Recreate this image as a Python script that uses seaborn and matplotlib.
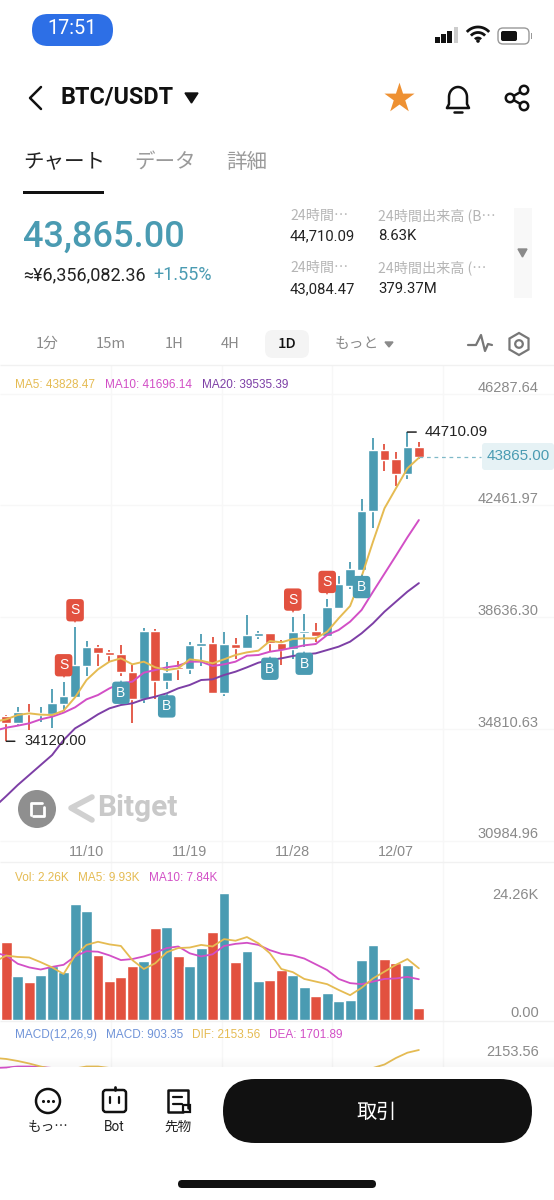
# -----------------------------
# 1. Import required libraries
# -----------------------------
import numpy as np
import pandas as pd
import matplotlib
matplotlib.use("Agg")
import matplotlib.pyplot as plt
import seaborn as sns
from matplotlib.patches import FancyBboxPatch, Circle, Rectangle, RegularPolygon
from matplotlib.transforms import offset_copy

# -----------------------------
# 2. Data
# -----------------------------
day_index = list(range(-1, 37))

opens = [35476, 34996, 34734, 35110, 35031, 35053, 35407, 35647, 36709, 37348, 37188, 37108, 36503,
         35567, 37908, 36184, 36652, 36595, 37371, 37497, 35761, 37451, 37303, 37736, 37816, 37497,
         37268, 37839, 37896, 37725, 38673, 39449, 39986, 42006, 44096, 43787, 43274, 44198]
closes = [35076, 34734, 35110, 35042, 35088, 35442, 35670, 36743, 37337, 37143, 37074, 36481, 35567,
          37908, 36184, 36503, 36583, 37405, 37497, 35761, 37451, 37303, 37759, 37839, 37497, 37245,
          37862, 37896, 37725, 38730, 39495, 40008, 42018, 44096, 43753, 43274, 44198, 43865]
highs = [35600, 35019, 35282, 35396, 35305, 35910, 36138, 38022, 37554, 37417, 37245, 37428, 36732,
         37988, 37953, 36823, 36869, 37531, 37782, 37679, 37873, 37668, 38433, 37908, 37839, 37588,
         38387, 38467, 38159, 38992, 39780, 40260, 42417, 44495, 44301, 44039, 44710.09, 44358]
lows = [34900, 34120, 34642, 34505, 34791, 34563, 35168, 35624, 36366, 36697, 36823, 36366, 34734,
        35419, 35556, 35898, 36218, 36423, 36697, 35761, 35681, 36926, 37303, 37622, 37188, 36732,
        36926, 37360, 37531, 37702, 38650, 39335, 39986, 41435, 43388, 42874, 43102, 43776]

ma5 = [34791, 34871, 35019, 35076, 35031, 35019, 35168, 35624, 36218, 36583, 36846, 36960, 36755,
       36846, 36652, 36560, 36617, 36926, 36880, 36789, 36926, 37074, 37165, 37223, 37554, 37508,
       37622, 37645, 37645, 37873, 38330, 38752, 39757, 40956, 42098, 42783, 43468, 43828.47]
ma10 = [34483, 34585, 34654, 34734, 34871, 34962, 35099, 35282, 35556, 35704, 35932, 36104, 36161,
        36469, 36560, 36652, 36709, 36846, 36846, 36697, 36755, 36846, 37051, 37074, 37188, 37245,
        37325, 37405, 37451, 37759, 37930, 38216, 38615, 39243, 39860, 40476, 41104, 41696.14]
ma20 = [31880, 32245, 32622, 32964, 33307, 33649, 34163, 34562, 34791, 35042, 35247, 35362, 35419,
        35556, 35647, 35761, 35932, 36047, 36218, 36241, 36389, 36503, 36652, 36812, 36903, 36960,
        37040, 37097, 37131, 37245, 37360, 37531, 37816, 38159, 38558, 38901, 39243, 39535.39]

volumes = [16.9, 14.9, 8.5, 7.4, 8.7, 10.4, 9.3, 22.2, 20.8, 12.4, 7.6, 8.2, 10.4, 11.4, 17.6, 17.8,
           12.2, 10.3, 13.9, 16.8, 24.26, 11.1, 13.3, 7.5, 7.7, 9.7, 8.7, 6.4, 4.6, 5.3, 3.7, 3.9,
           11.5, 14.3, 11.8, 10.9, 10.6, 2.26]
vol_ma5 = [11.2, 12.36, 12.1, 12.0, 11.1, 10.1, 8.85, 12.36, 14.4, 15.0, 14.5, 14.2, 11.5, 9.8, 10.9,
           13.0, 13.8, 13.9, 14.4, 14.1, 15.5, 15.2, 15.9, 14.7, 12.8, 9.8, 9.2, 7.9, 7.4, 6.9, 5.8,
           4.8, 6.2, 8.0, 9.3, 10.6, 11.7, 9.93]
vol_ma10 = [12.9, 12.36, 10.8, 10.1, 9.7, 10.2, 10.6, 12.2, 13.2, 13.1, 12.4, 11.5, 11.7, 12.2, 12.9,
            13.8, 14.1, 12.8, 12.2, 12.6, 14.2, 14.6, 14.8, 14.4, 13.4, 12.7, 12.4, 11.8, 10.7, 9.6,
            7.9, 7.1, 6.9, 7.4, 7.9, 8.0, 8.3, 7.84]

# most of these two run under the bottom sheet, so the hidden part is a guess
dif = [1954, 1929, 1879, 1816, 1741, 1679, 1654, 1691, 1741, 1741, 1704, 1604, 1604, 1604, 1604, 1604,
       1604, 1604, 1604, 1604, 1604, 1604, 1604, 1604, 1604, 1604, 1604, 1604, 1604, 1604, 1604, 1604,
       1604, 1704, 1791, 1954, 2086, 2153.56]
dea = [1704, 1716, 1741, 1741, 1729, 1704, 1680, 1650, 1640, 1640, 1640, 1640, 1640, 1640, 1640, 1640,
       1640, 1640, 1640, 1640, 1640, 1640, 1640, 1640, 1640, 1640, 1640, 1640, 1640, 1640, 1640, 1640,
       1640, 1650, 1660, 1670, 1685, 1701.89]

sell_days = [5, 6, 25, 28]
buy_days = [10, 14, 23, 26, 31]

price_ticks = [46287.64, 42461.97, 38636.30, 34810.63, 30984.96]
date_days = [7, 16, 25, 34]
date_labels = ["11/10", "11/19", "11/28", "12/07"]
timeframes = ["1分", "15m", "1H", "4H", "1D", "もっと"]

# -----------------------------
# 3. Figure and colours
# -----------------------------
sns.set_theme(style="white")
JP = ["Noto Sans CJK JP", "DejaVu Sans"]
LAT = ["Liberation Sans", "DejaVu Sans"]
ROB = ["Roboto", "DejaVu Sans"]
plt.rcParams["font.family"] = JP

TEAL = "#4a9bb2"
RED = "#e2513f"
YELLOW = "#e5bb52"
PINK = "#d24fc6"
PURPLE = "#7d3fa6"
BLUE = "#6f93d8"
GRID = "#f7f7f7"
GRAY = "#8a8a8a"

W, H = 554, 1200
fig = plt.figure(figsize=(W / 100, H / 100), dpi=100, facecolor="white")


def px_axes(x0, y0, x1, y1, zorder):
    ax = fig.add_axes([x0 / W, 1 - y1 / H, (x1 - x0) / W, (y1 - y0) / H], zorder=zorder)
    ax.patch.set_alpha(0)
    for s in ax.spines.values():
        s.set_visible(False)
    return ax


def overlay_axes(zorder):
    ax = px_axes(0, 0, W, H, zorder)
    ax.set_xlim(0, W)
    ax.set_ylim(H, 0)
    ax.axis("off")
    return ax


def label(ax, x, y, s, size, color="#111111", ha="left", family=JP, weight="normal"):
    ax.text(x, y, s, fontsize=size, color=color, ha=ha, va="center", family=family, weight=weight)


def rrect(ax, x, y, w, h, r, **kw):
    ax.add_patch(FancyBboxPatch((x + r, y + r), w - 2 * r, h - 2 * r,
                                boxstyle=f"round,pad={r},rounding_size={r}", **kw))


ui = overlay_axes(0)
top = overlay_axes(5)

# -----------------------------
# 4. Price panel
# -----------------------------
X_START, X_STEP = 6.3, 11.46
PRICE_PER_PX = 34.25
xlim = ((0 - X_START) / X_STEP, (W - X_START) / X_STEP)


def price_at(py):
    return price_ticks[0] - (py - 386) * PRICE_PER_PX


price_ax = px_axes(0, 365, W, 862, 1)
price_ax.set_xlim(xlim)
price_ax.set_ylim(price_at(862), price_at(365))

# gridlines sit about 8 px under their labels in the app
price_ax.hlines([p - 7.8 * PRICE_PER_PX for p in price_ticks], *xlim, color=GRID, lw=1, zorder=0)

candle_colors = [TEAL if c >= o else RED for o, c in zip(opens, closes)]
price_ax.vlines(day_index, lows, highs, colors=candle_colors, lw=1.3, zorder=2)
price_ax.bar(day_index, np.abs(np.array(closes) - np.array(opens)),
             bottom=np.minimum(opens, closes), width=0.84, color=candle_colors, zorder=3)

for values, color in [(ma20, PURPLE), (ma10, PINK), (ma5, YELLOW)]:
    line_df = pd.DataFrame({"day": day_index, "ma": values})
    sns.lineplot(data=line_df, x="day", y="ma", color=color, lw=1.4, errorbar=None, ax=price_ax, zorder=4)

price_ax.set_xlabel("")
price_ax.set_ylabel("")
price_ax.set_xlim(xlim)
price_ax.set_ylim(price_at(862), price_at(365))
price_ax.yaxis.tick_right()
price_ax.set_yticks(price_ticks, [f"{p:.2f}" for p in price_ticks])
price_ax.tick_params(axis="y", length=0, pad=-11, labelsize=10.5, labelcolor=GRAY)
for t in price_ax.get_yticklabels():
    t.set_ha("right")
    t.set_family(LAT)
price_ax.set_xticks(date_days, date_labels)
price_ax.tick_params(axis="x", length=0, pad=-12, labelsize=10.4, labelcolor=GRAY)
for t in price_ax.get_xticklabels():
    t.set_family(LAT)

# S / B badges hang off the candle highs and lows
badge = dict(boxstyle="round,pad=0.3,rounding_size=0.25", ec="none")
for day in sell_days:
    high = highs[day_index.index(day)]
    tip = offset_copy(price_ax.transData, fig=fig, y=5, units="points")
    price_ax.plot(day, high, marker="v", ms=5, color=RED, mew=0, transform=tip, zorder=6)
    price_ax.annotate("S", (day, high), xytext=(0, 12.3), textcoords="offset points", ha="center", va="center",
                      fontsize=10, color="white", family=LAT, zorder=7, bbox=dict(fc=RED, **badge))
for day in buy_days:
    low = lows[day_index.index(day)]
    tip = offset_copy(price_ax.transData, fig=fig, y=-5, units="points")
    price_ax.plot(day, low, marker="^", ms=5, color=TEAL, mew=0, transform=tip, zorder=6)
    price_ax.annotate("B", (day, low), xytext=(0, -12.3), textcoords="offset points", ha="center", va="center",
                      fontsize=10, color="white", family=LAT, zorder=7, bbox=dict(fc=TEAL, **badge))

# high / low callouts and last price tag
price_ax.annotate("44710.09", (35, highs[-2]), xytext=(12.2, 0), textcoords="offset points", va="center",
                  fontsize=10.8, color="#222222", family=LAT, zorder=7,
                  arrowprops=dict(arrowstyle="-", color="#222222", lw=1.1, shrinkA=3.5, shrinkB=0))
price_ax.annotate("34120.00", (0, lows[1]), xytext=(13, 0), textcoords="offset points", va="center",
                  fontsize=10.6, color="#222222", family=LAT, zorder=7,
                  arrowprops=dict(arrowstyle="-", color="#222222", lw=1.1, shrinkA=4.5, shrinkB=0))
price_ax.plot([36, 41.4], [closes[-1], closes[-1]], color="#7fb9c8", lw=0.9, ls=(0, (3, 3)), zorder=4)
rrect(top, 482, 443, 72, 27, 3, fc="#e6f2f5", ec="none")
label(top, 518.5, 456.5, "43865.00", 10.9, TEAL, ha="center", family=LAT)

label(ui, 15, 385, "MA5: 43828.47", 8.5, YELLOW, family=LAT)
label(ui, 105, 385, "MA10: 41696.14", 8.5, PINK, family=LAT)
label(ui, 202, 385, "MA20: 39535.39", 8.5, PURPLE, family=LAT)

# -----------------------------
# 5. Volume panel
# -----------------------------
VOL_PER_PX = 0.191
vol_ax = px_axes(0, 865, W, 1020.3, 1)
vol_df = pd.DataFrame({"day": day_index, "vol": volumes,
                       "side": ["up" if c == TEAL else "down" for c in candle_colors]})
sns.barplot(data=vol_df, x="day", y="vol", hue="side", palette={"up": TEAL, "down": RED}, dodge=False,
            native_scale=True, saturation=1, width=0.95, legend=False, errorbar=None, ax=vol_ax)
for values, color in [(vol_ma10, PINK), (vol_ma5, YELLOW)]:
    line_df = pd.DataFrame({"day": day_index, "ma": values})
    sns.lineplot(data=line_df, x="day", y="ma", color=color, lw=1.3, errorbar=None, ax=vol_ax)
vol_ax.set_xlabel("")
vol_ax.set_ylabel("")
vol_ax.set_xlim(xlim)
vol_ax.set_ylim(0, 155.3 * VOL_PER_PX)
vol_ax.set_xticks([])
vol_ax.yaxis.tick_right()
vol_ax.set_yticks([0, 24.26], ["0.00", "24.26K"])
vol_ax.tick_params(axis="y", length=0, pad=-11, labelsize=10.5, labelcolor=GRAY)
for t in vol_ax.get_yticklabels():
    t.set_ha("right")
    t.set_family(LAT)
vol_ax.get_yticklabels()[0].set_va("bottom")

label(ui, 15, 878, "Vol: 2.26K", 8.5, YELLOW, family=LAT)
label(ui, 78, 878, "MA5: 9.93K", 8.5, YELLOW, family=LAT)
label(ui, 149, 878, "MA10: 7.84K", 8.5, PINK, family=LAT)

# -----------------------------
# 6. MACD panel (mostly hidden)
# -----------------------------
MACD_PER_PX = 25
macd_ax = px_axes(0, 1021, W, 1075, 1)
for values, color in [(dea, PINK), (dif, YELLOW)]:
    line_df = pd.DataFrame({"day": day_index, "val": values})
    sns.lineplot(data=line_df, x="day", y="val", color=color, lw=1.3, errorbar=None, ax=macd_ax)
macd_ax.set_xlabel("")
macd_ax.set_ylabel("")
macd_ax.set_xlim(xlim)
macd_ax.set_ylim(2153.56 - (1075 - 1050) * MACD_PER_PX, 2153.56 + (1050 - 1021) * MACD_PER_PX)
macd_ax.set_xticks([])
macd_ax.yaxis.tick_right()
macd_ax.set_yticks([2153.56], ["2153.56"])
macd_ax.tick_params(axis="y", length=0, pad=-11, labelsize=10.5, labelcolor=GRAY)
for t in macd_ax.get_yticklabels():
    t.set_ha("right")
    t.set_family(LAT)

label(ui, 15, 1035, "MACD(12,26,9)", 8.5, BLUE, family=LAT)
label(ui, 106, 1035, "MACD: 903.35", 8.5, BLUE, family=LAT)
label(ui, 192, 1035, "DIF: 2153.56", 8.5, YELLOW, family=LAT)
label(ui, 269, 1035, "DEA: 1701.89", 8.5, PINK, family=LAT)

# panel rules and the vertical grid behind everything
ui.vlines([110.8, 221.6, 332.4, 443.2], 365, 1067, color=GRID, lw=1)
ui.hlines([365, 862, 1020.5], 0, W, color="#f1f1f1", lw=1)

# -----------------------------
# 7. App header
# -----------------------------
rrect(ui, 32, 14, 81, 32, 16, fc="#2d6fe6", ec="none")
label(ui, 72.5, 29, "17:51", 14.3, "white", ha="center", family=ROB)

# status icons
for i, h_bar in enumerate([6, 9, 12, 16]):
    ui.add_patch(Rectangle((435 + i * 6.2, 43 - h_bar), 4.6, h_bar,
                           fc="#111111" if i < 3 else "#cccccc", ec="none"))
for r in [4, 9.5, 15]:
    a = np.radians(np.linspace(222, 318, 30))
    ui.plot(478 + r * np.cos(a), 42 + r * np.sin(a), color="#111111", lw=2, solid_capstyle="butt")
ui.add_patch(Circle((478, 41), 1.8, fc="#111111", ec="none"))
rrect(ui, 498, 28, 31, 16, 5, fc="white", ec="#999999", lw=1)
rrect(ui, 501, 31, 16, 10, 2, fc="#111111", ec="none")
ui.add_patch(Rectangle((530.5, 33), 1.5, 6, fc="#999999", ec="none"))

# title row
ui.plot([41, 30, 41], [87, 98, 109], color="#111111", lw=1.8)
label(ui, 61, 97, "BTC/USDT", 16.8, "#111111", family=ROB, weight="bold")
ui.fill([185, 198, 191.5], [93, 93, 103], color="#111111")
ui.scatter([399], [98], marker="*", s=520, color="#ee9133", linewidths=0)

# bell
a = np.radians(np.linspace(180, 360, 30))
dome_x = 458 + 9 * np.cos(a)
dome_y = 97 + 10 * np.sin(a)
ui.plot(np.r_[447, 449, dome_x, 467, 469, 447], np.r_[108, 104, dome_y, 104, 108, 108], color="#111111", lw=1.8)
ui.plot([454, 462], [112, 112], color="#111111", lw=1.8)

# share
for cx, cy in [(510, 98), (524, 90), (524, 106)]:
    ui.add_patch(Circle((cx, cy), 4.2, fc="white", ec="#111111", lw=1.8, zorder=3))
ui.plot([524, 510, 524], [90, 98, 106], color="#111111", lw=1.8)

# tabs
label(ui, 23, 161.5, "チャート", 14.8, "#222222")
label(ui, 134, 161.5, "データ", 14.8, "#9a9a9a")
label(ui, 226, 161.5, "詳細", 14.8, "#9a9a9a")
ui.add_patch(Rectangle((23, 191), 81, 3, fc="#111111", ec="none"))

# price block
label(ui, 23, 237, "43,865.00", 26, TEAL, family=ROB, weight="medium")
label(ui, 23, 275, "≈¥6,356,082.36", 13, "#222222", family=ROB)
label(ui, 153, 275, "+1.55%", 13, TEAL, family=ROB)

label(ui, 290, 216, "24時間…", 10.2, "#b5b5b5")
label(ui, 378, 216, "24時間出来高 (B…", 10.2, "#b5b5b5")
label(ui, 290, 236, "44,710.09", 10.7, "#222222", family=ROB)
label(ui, 378, 236, "8.63K", 10.7, "#222222", family=ROB)
label(ui, 290, 268, "24時間…", 10.2, "#b5b5b5")
label(ui, 378, 268, "24時間出来高 (…", 10.2, "#b5b5b5")
label(ui, 290, 289, "43,084.47", 10.7, "#222222", family=ROB)
label(ui, 378, 289, "379.37M", 10.7, "#222222", family=ROB)
ui.add_patch(Rectangle((514, 208), 18, 90, fc="#f8f8f8", ec="none"))
ui.fill([518, 527, 522.5], [249, 249, 257], color="#8a8a8a")

# timeframe row
tf_x = [47, 111, 174, 230, 287, 357]
rrect(ui, 265, 330, 44, 28, 8, fc="#f4f4f4", ec="none")
for tf, tx in zip(timeframes, tf_x):
    label(ui, tx, 344, tf, 10.6, "#111111" if tf == "1D" else "#8a8a8a", ha="center",
          family=JP, weight="medium" if tf == "1D" else "normal")
ui.fill([385, 393, 389], [342, 342, 347], color="#8a8a8a")
ui.plot([468, 476, 481, 485, 488, 492], [345, 345, 335, 351, 344, 345], color="#777777", lw=1.6)
ui.add_patch(RegularPolygon((519, 344), 6, radius=11, fc="none", ec="#777777", lw=1.6))
ui.add_patch(Circle((519, 344), 3.8, fc="none", ec="#777777", lw=1.6))

# watermark
ui.add_patch(Circle((37, 809), 19, fc="#8f8f8f", ec="none"))
ui.plot([31, 31, 42], [815, 803, 803], color="white", lw=2)
ui.plot([33, 44, 44], [816, 816, 807], color="white", lw=2)
ui.plot([92, 71, 92], [797, 808, 820], color="#d0d0d0", lw=4)
label(ui, 97, 808, "Bitget", 21.5, "#c9c9c9", family=ROB, weight="bold")

# -----------------------------
# 8. Bottom sheet
# -----------------------------
for k in range(10):
    top.add_patch(Rectangle((0, 1057 + k), W, 1, fc="#888888", alpha=0.006 * (k + 1), ec="none"))
rrect(top, 0, 1067, W, 160, 16, fc="white", ec="none")

top.add_patch(Circle((48, 1101), 12, fc="none", ec="#111111", lw=1.8))
top.scatter([43, 48, 53], [1101, 1101, 1101], s=5, color="#111111", linewidths=0)
label(top, 48, 1127, "もっ…", 9.8, "#222222", ha="center")

rrect(top, 103, 1090, 23, 22, 3, fc="none", ec="#111111", lw=1.8)
top.plot([110, 110], [1097, 1103], color="#111111", lw=1.6)
top.plot([119, 119], [1097, 1103], color="#111111", lw=1.6)
top.plot([114.5, 114.5], [1087, 1090], color="#111111", lw=2)
label(top, 114, 1127, "Bot", 9.8, "#222222", ha="center", family=ROB)

top.plot([188, 188, 168, 168, 183], [1108, 1090, 1090, 1112, 1112], color="#111111", lw=1.8)
top.plot([173, 182], [1097, 1097], color="#111111", lw=1.6)
top.plot([173, 182], [1104, 1104], color="#111111", lw=1.6)
top.add_patch(Rectangle((183, 1105), 7, 7, fc="white", ec="#111111", lw=1.6))
label(top, 178, 1127, "先物", 9.8, "#222222", ha="center")

rrect(top, 223, 1079, 309, 64, 32, fc="#111111", ec="none")
label(top, 377, 1112, "取引", 14.5, "white", ha="center")
rrect(top, 178, 1180, 198, 8, 4, fc="#111111", ec="none")

# -----------------------------
# 9. Save
# -----------------------------
fig.savefig("out.png", dpi=100)
